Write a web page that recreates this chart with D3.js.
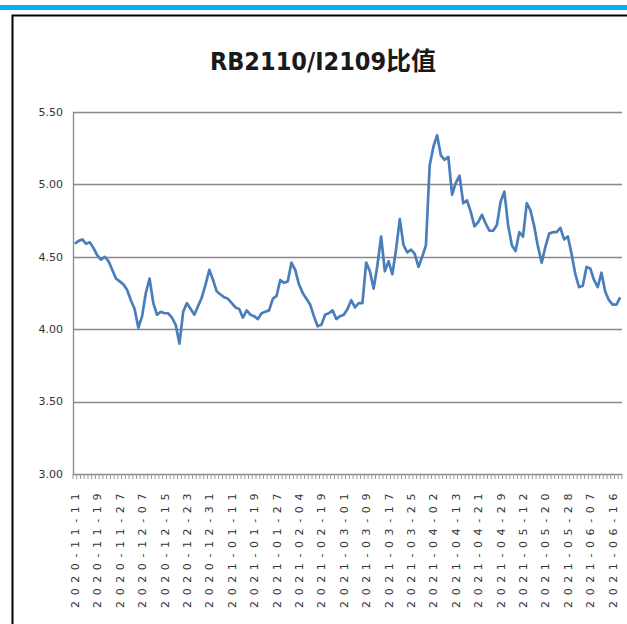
<!DOCTYPE html>
<meta charset="utf-8">
<style>
body { margin: 0; background: #fff; }
</style>
<body>
<script src="https://d3js.org/d3.v7.min.js"></script>
<script>

// trading days (category axis)
var dates = [
  "2020-11-11","2020-11-12","2020-11-13","2020-11-16","2020-11-17","2020-11-18","2020-11-19","2020-11-20","2020-11-23","2020-11-24","2020-11-25","2020-11-26","2020-11-27","2020-11-30",
  "2020-12-01","2020-12-02","2020-12-03","2020-12-04","2020-12-07","2020-12-08","2020-12-09","2020-12-10","2020-12-11","2020-12-14","2020-12-15","2020-12-16","2020-12-17","2020-12-18","2020-12-21","2020-12-22","2020-12-23","2020-12-24","2020-12-25","2020-12-28","2020-12-29","2020-12-30","2020-12-31",
  "2021-01-04","2021-01-05","2021-01-06","2021-01-07","2021-01-08","2021-01-11","2021-01-12","2021-01-13","2021-01-14","2021-01-15","2021-01-18","2021-01-19","2021-01-20","2021-01-21","2021-01-22","2021-01-25","2021-01-26","2021-01-27","2021-01-28","2021-01-29",
  "2021-02-01","2021-02-02","2021-02-03","2021-02-04","2021-02-05","2021-02-08","2021-02-09","2021-02-10","2021-02-18","2021-02-19","2021-02-22","2021-02-23","2021-02-24","2021-02-25","2021-02-26",
  "2021-03-01","2021-03-02","2021-03-03","2021-03-04","2021-03-05","2021-03-08","2021-03-09","2021-03-10","2021-03-11","2021-03-12","2021-03-15","2021-03-16","2021-03-17","2021-03-18","2021-03-19","2021-03-22","2021-03-23","2021-03-24","2021-03-25","2021-03-26","2021-03-29","2021-03-30","2021-03-31",
  "2021-04-01","2021-04-02","2021-04-06","2021-04-07","2021-04-08","2021-04-09","2021-04-12","2021-04-13","2021-04-14","2021-04-15","2021-04-16","2021-04-19","2021-04-20","2021-04-21","2021-04-22","2021-04-23","2021-04-26","2021-04-27","2021-04-28","2021-04-29","2021-04-30",
  "2021-05-06","2021-05-07","2021-05-10","2021-05-11","2021-05-12","2021-05-13","2021-05-14","2021-05-17","2021-05-18","2021-05-19","2021-05-20","2021-05-21","2021-05-24","2021-05-25","2021-05-26","2021-05-27","2021-05-28","2021-05-31",
  "2021-06-01","2021-06-02","2021-06-03","2021-06-04","2021-06-07","2021-06-08","2021-06-09","2021-06-10","2021-06-11","2021-06-15","2021-06-16","2021-06-17","2021-06-18"
];

// RB2110 / I2109 ratio
var ratio = [
  4.59,4.61,4.62,4.59,4.60,4.56,4.51,4.48,4.50,4.47,4.41,4.35,4.33,4.31,
  4.27,4.20,4.14,4.01,4.09,4.25,4.35,4.18,4.10,4.12,4.11,4.11,4.08,4.03,3.90,4.12,4.18,4.14,4.10,4.16,4.22,4.31,4.41,
  4.34,4.26,4.24,4.22,4.21,4.18,4.15,4.14,4.08,4.13,4.10,4.09,4.07,4.11,4.12,4.13,4.21,4.23,4.34,4.32,
  4.33,4.46,4.41,4.31,4.25,4.21,4.17,4.09,4.02,4.03,4.10,4.11,4.13,4.07,4.09,
  4.10,4.14,4.20,4.15,4.18,4.18,4.46,4.40,4.28,4.44,4.64,4.40,4.47,4.38,4.55,4.76,4.58,4.53,4.55,4.52,4.43,4.50,4.58,
  5.13,5.26,5.34,5.20,5.17,5.19,4.93,5.01,5.06,4.87,4.89,4.81,4.71,4.74,4.79,4.73,4.68,4.68,4.72,4.88,4.95,
  4.72,4.58,4.54,4.67,4.64,4.87,4.82,4.71,4.57,4.46,4.57,4.66,4.67,4.67,4.70,4.62,4.64,4.52,
  4.38,4.29,4.30,4.43,4.42,4.34,4.29,4.39,4.26,4.20,4.17,4.17,4.22
];

var yTicks = [3.00, 3.50, 4.00, 4.50, 5.00, 5.50];
var labelEvery = 6;
var title = "RB2110/I2109比值";

var W = 627, H = 624;
var plot = {left: 73, right: 622, top: 112, bottom: 474};

var svg = d3.select("body").append("svg")
    .attr("width", W)
    .attr("height", H);

// top cyan bar
svg.append("rect")
    .attr("x", 0).attr("y", 5)
    .attr("width", W).attr("height", 5)
    .attr("fill", "#00b0f0");

// chart border
svg.append("rect")
    .attr("x", 12.5).attr("y", 15.5)
    .attr("width", W).attr("height", H)
    .attr("fill", "none")
    .attr("stroke", "#000")
    .attr("stroke-width", 2);

svg.append("text")
    .attr("x", 323).attr("y", 70)
    .attr("text-anchor", "middle")
    .style("font-family", "'DejaVu Sans Condensed', 'Noto Sans CJK SC', sans-serif")
    .style("font-weight", "bold")
    .style("font-size", "25px")
    .attr("fill", "#1a1a1a")
    .text(title);

var x = d3.scaleBand()
    .domain(dates)
    .range([plot.left, plot.right])
    .padding(0);

var y = d3.scaleLinear()
    .domain([3, 5.5])
    .range([plot.bottom, plot.top]);

// gridlines
svg.append("g")
  .selectAll("line")
  .data(yTicks)
  .enter().append("line")
    .attr("x1", plot.left)
    .attr("x2", plot.right)
    .attr("y1", function(d) { return Math.round(y(d)) + 0.5; })
    .attr("y2", function(d) { return Math.round(y(d)) + 0.5; })
    .attr("stroke", "#888")
    .attr("stroke-width", 1.3);

// y labels
svg.append("g")
  .selectAll("text")
  .data(yTicks)
  .enter().append("text")
    .attr("x", plot.left - 10)
    .attr("y", function(d) { return y(d); })
    .attr("dy", "0.35em")
    .attr("text-anchor", "end")
    .style("font-family", "'DejaVu Sans', sans-serif")
    .style("font-size", "11px")
    .attr("fill", "#333")
    .text(function(d) { return d3.format(".2f")(d); });

// y axis line
svg.append("line")
    .attr("x1", plot.left + 0.5).attr("x2", plot.left + 0.5)
    .attr("y1", plot.top).attr("y2", plot.bottom + 1)
    .attr("stroke", "#888")
    .attr("stroke-width", 1.3);

// x category ticks (between categories)
svg.append("g")
  .selectAll("line")
  .data(dates.concat([null]))
  .enter().append("line")
    .attr("x1", function(d) { return d === null ? plot.right : x(d); })
    .attr("x2", function(d) { return d === null ? plot.right : x(d); })
    .attr("y1", plot.bottom)
    .attr("y2", plot.bottom + 5)
    .attr("stroke", "#999")
    .attr("stroke-width", 1);

// x labels
svg.append("g")
  .selectAll("text")
  .data(dates.filter(function(d, i) { return i % labelEvery === 0; }))
  .enter().append("text")
    .attr("transform", function(d) {
      return "translate(" + (x(d) + x.bandwidth() / 2 + 4) + "," + (plot.bottom + 14) + ") rotate(-90)";
    })
    .attr("text-anchor", "end")
    .style("font-family", "'DejaVu Sans', sans-serif")
    .style("font-size", "11px")
    .style("letter-spacing", "5.6px")
    .attr("fill", "#333")
    .text(function(d) { return d; });

// ratio line
var line = d3.line()
    .x(function(d, i) { return x(dates[i]) + x.bandwidth() / 2; })
    .y(function(d) { return y(d); });

svg.append("path")
    .datum(ratio)
    .attr("fill", "none")
    .attr("stroke", "#4a7ebb")
    .attr("stroke-width", 2.7)
    .attr("stroke-linejoin", "round")
    .attr("d", line);

</script>
</body>
</html>
